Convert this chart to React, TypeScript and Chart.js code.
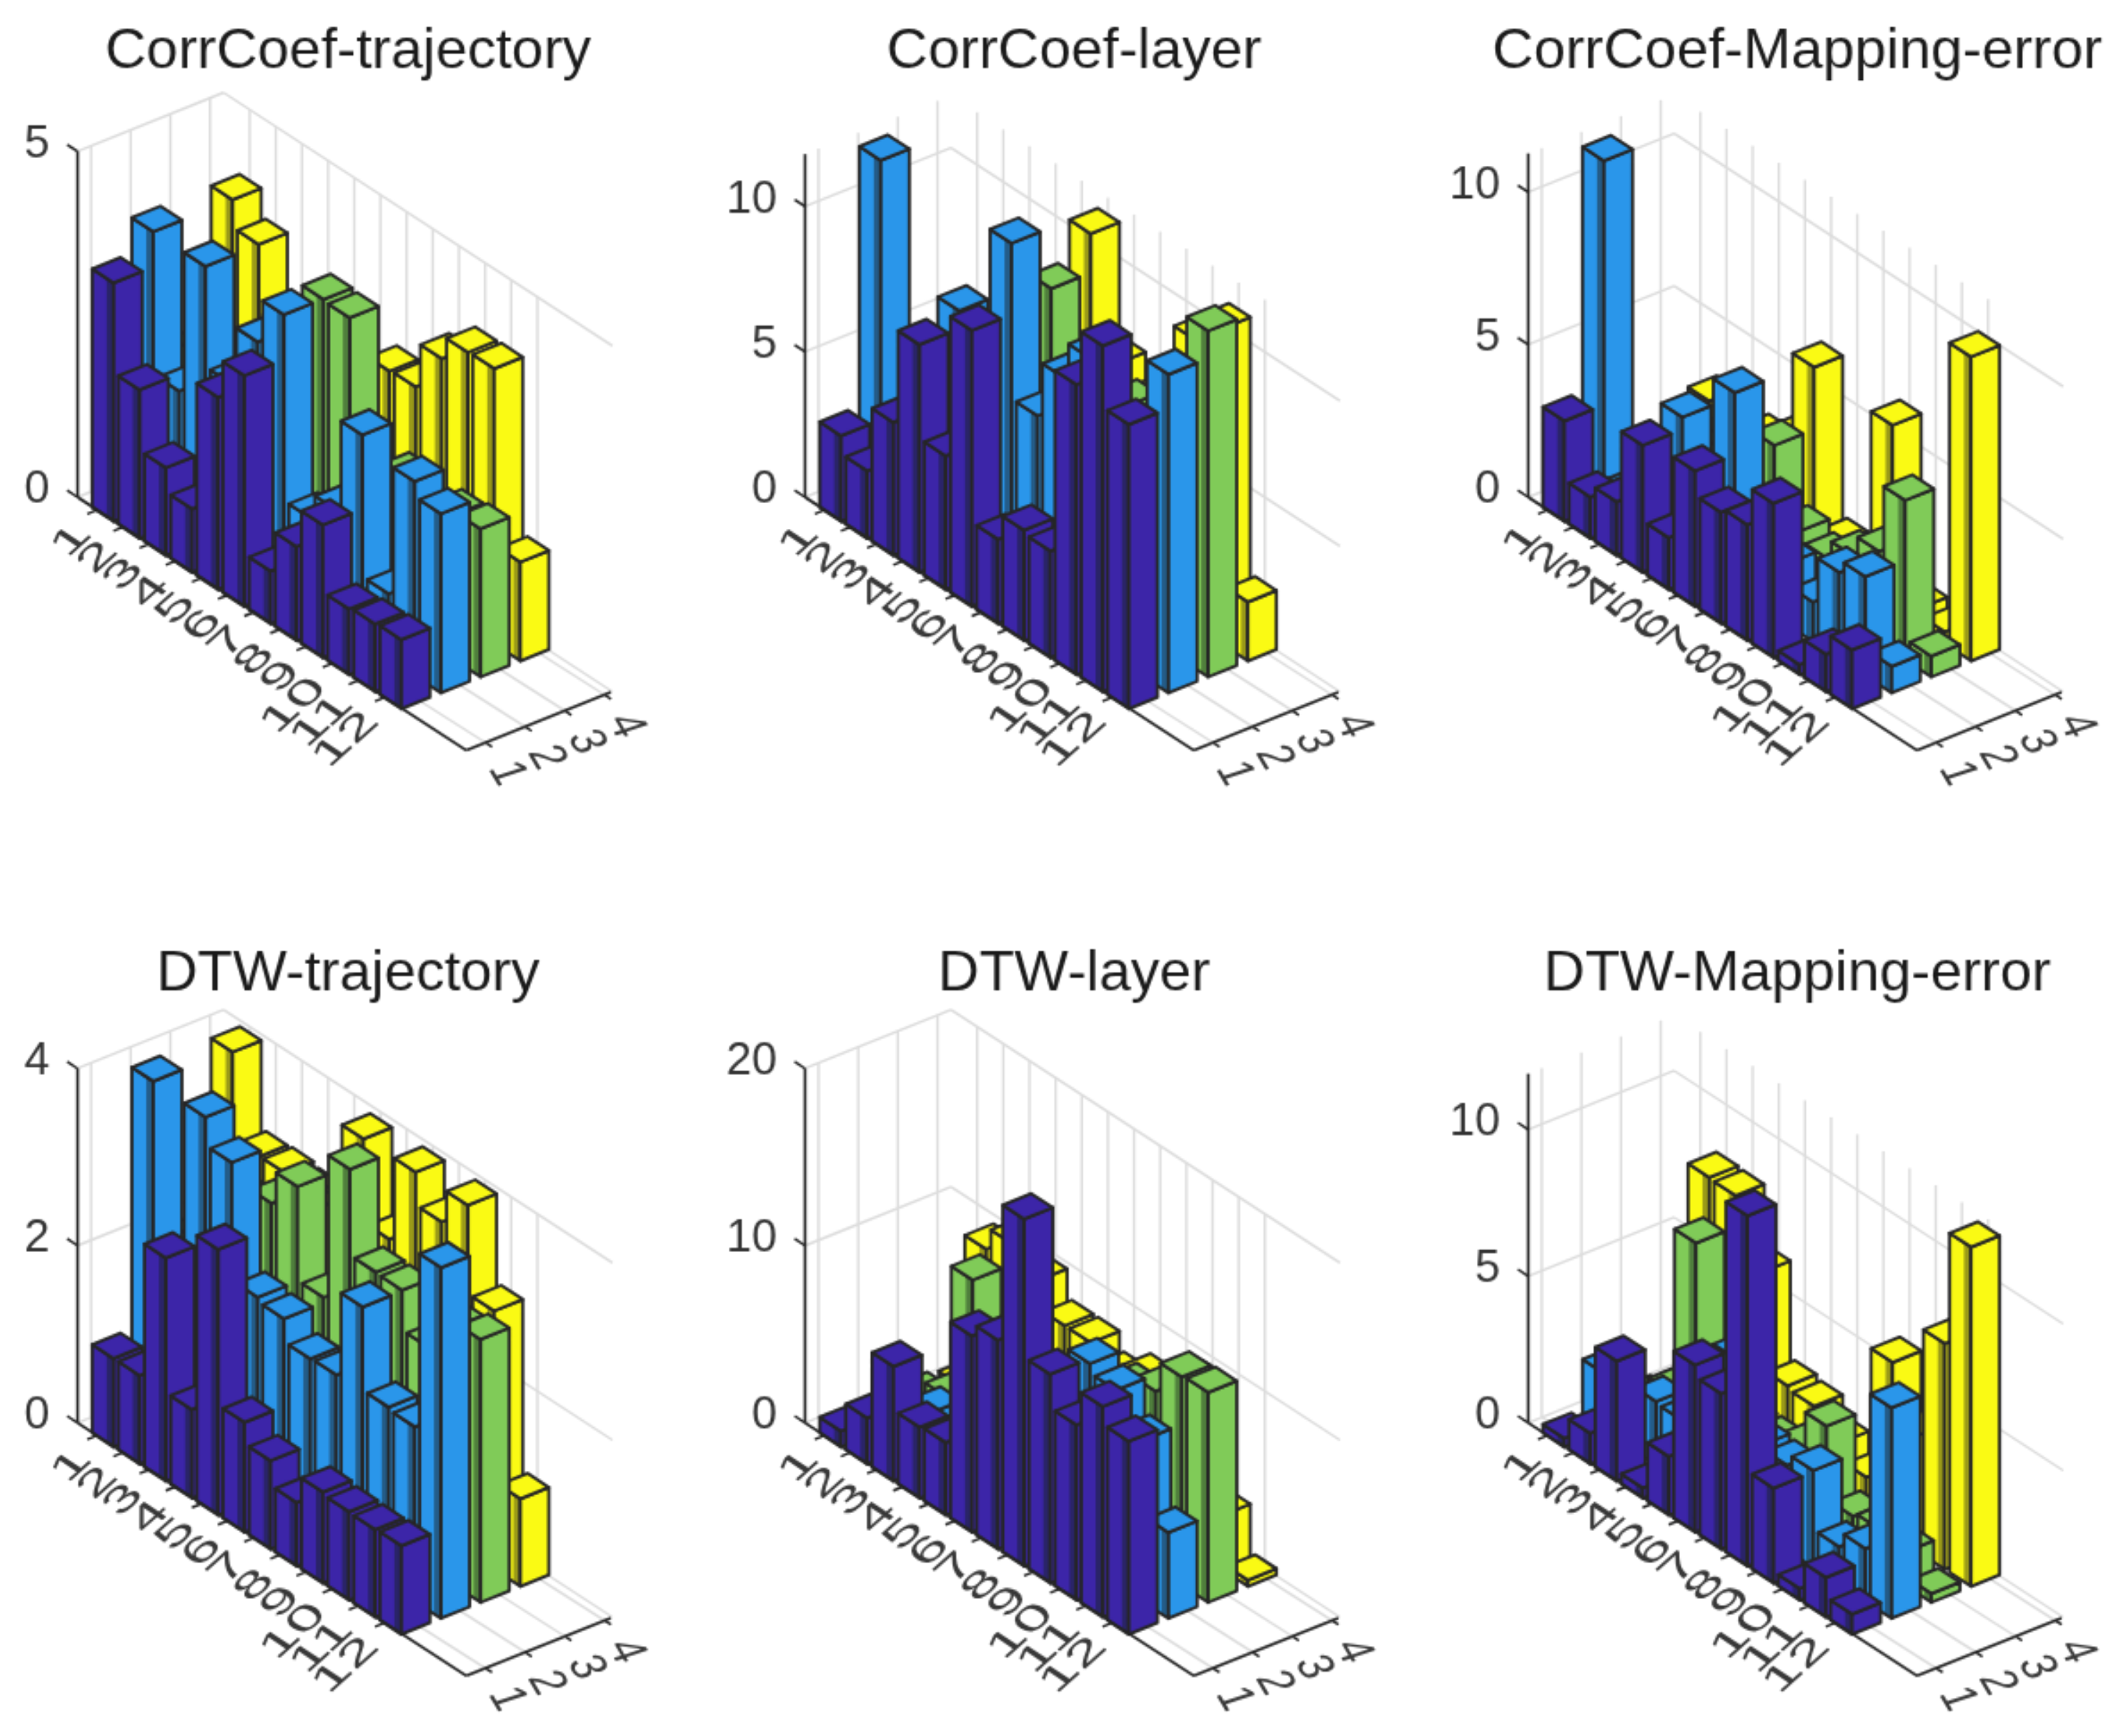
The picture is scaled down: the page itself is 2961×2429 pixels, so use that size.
import React, { useEffect, useRef } from "react";
import { Chart, DatasetController, LinearScale, PointElement, Title } from "chart.js";

const categories = ["1", "2", "3", "4", "5", "6", "7", "8", "9", "10", "11", "12"];
const seriesLabels = ["1", "2", "3", "4"];

const corrTrajectoryS1 = [3.45, 2.15, 1.27, 0.92, 2.78, 3.34, 0.76, 1.36, 1.92, 0.95, 0.98, 1.0];
const corrTrajectoryS2 = [3.96, 1.9, 3.95, 2.5, 3.35, 3.99, 1.3, 1.66, 2.99, 0.94, 2.81, 2.59];
const corrTrajectoryS3 = [2.0, 2.2, 2.4, 2.3, 3.0, 3.98, 3.96, 1.4, 2.14, 1.9, 2.1, 2.14];
const corrTrajectoryS4 = [3.96, 3.56, 2.6, 2.8, 3.0, 2.5, 2.96, 2.98, 3.63, 3.97, 3.98, 1.43];

const corrLayerS1 = [2.95, 2.33, 4.58, 7.84, 4.6, 9.5, 2.9, 3.8, 3.67, 9.98, 11.9, 9.78];
const corrLayerS2 = [11.87, 2.5, 4, 8.45, 6, 11.95, 6.6, 8.5, 9.76, 7, 6, 10.95];
const corrLayerS3 = [2.5, 3, 4, 4.5, 5, 9.84, 7, 6, 7.6, 6, 9, 11.9];
const corrLayerS4 = [4, 4, 4, 4.5, 4.5, 11.18, 7.3, 6.5, 8, 9.87, 10.84, 2.03];

const corrMappingS1 = [3.3, 1.36, 1.76, 4.17, 1.7, 4.45, 3.65, 3.8, 5.06, 0.33, 1.23, 1.93];
const corrMappingS2 = [11.3, 1, 1, 4.57, 3, 6.49, 1.5, 2, 1.3, 2.83, 3.25, 0.87];
const corrMappingS3 = [1, 1.5, 2, 3, 3.5, 4.24, 2, 1.67, 2.3, 3.0, 5.23, 0.68];
const corrMappingS4 = [1, 2.94, 2.5, 2.8, 3.3, 6.28, 1.06, 1, 6.05, 0.6, 0.4, 9.97];

const dtwTrajectoryS1 = [1.0, 1.0, 2.52, 1.0, 3.0, 1.24, 1.0, 0.72, 1.03, 1.0, 0.99, 1.0];
const dtwTrajectoryS2 = [3.95, 1.8, 3.93, 3.61, 2.28, 2.23, 1.97, 1.98, 2.94, 2.0, 1.97, 3.96];
const dtwTrajectoryS3 = [2, 2.5, 2.8, 2.97, 3.35, 2.29, 3.93, 2.96, 2.95, 2.5, 2.92, 2.97];
const dtwTrajectoryS4 = [3.92, 2.93, 2.94, 2.9, 2.9, 3.9, 2.96, 3.91, 3.54, 3.92, 2.92, 0.99];

const dtwLayerS1 = [0.9, 2.6, 6.47, 4.0, 4.1, 11.08, 11.8, 19.6, 11.8, 9.9, 11.9, 10.9];
const dtwLayerS2 = [0.5, 1, 3.0, 2, 3, 5, 5, 7, 11.5, 10.96, 9.1, 4.85];
const dtwLayerS3 = [1, 2, 9.55, 6, 6, 6, 6, 8, 9.2, 10, 11.77, 11.86];
const dtwLayerS4 = [0.8, 9.43, 10.7, 9.6, 8, 8, 7, 7.87, 8, 9.4, 3.05, 0.36];

const dtwMappingS1 = [0.3, 1.05, 4.09, 0.35, 2.0, 5.7, 5.3, 11.95, 3.24, 0.4, 1.36, 0.69];
const dtwMappingS2 = [1.97, 1, 2.17, 2.1, 1.5, 5.4, 3, 2.9, 3.3, 1.28, 1.8, 7.18];
const dtwMappingS3 = [0.5, 1.37, 7.03, 2, 2, 2, 2.37, 3.69, 1.2, 1.36, 1.14, 0.3];
const dtwMappingS4 = [0.4, 8.14, 8.1, 6.07, 2.78, 2.66, 2, 1.4, 5.9, 4, 7.7, 11.57];

const zTicks1 = [0, 5];
const zTicks2 = [0, 5, 10];
const zTicks4 = [0, 2, 4];
const zTicks5 = [0, 10, 20];

const COLORS = ["#3C25A8", "#2A96EA", "#80CB58", "#FAFA14"];
const SHADES = ["#2A2468", "#245C88", "#4F7E3C", "#9A9A18"];
const INK = "#262626";
const GRID = "#DCDCDC";
const FONT = '"Liberation Sans", Arial, sans-serif';

const CAT = { x: 36.6, y: 23.8 };
const SER = { x: 55.5, y: -22.3 };
const S0 = 0.66;
const S1 = 4.34;
const C1 = 14.87;
const HC = 0.41;
const HS = 0.36;
const CAT_TICK_SHIFT = -0.25;
const SER_TICK_SHIFT = 0.14;
const CANVAS_W = 1000;
const CANVAS_H = 1136;

const panels = [
  { title: "CorrCoef-trajectory", center: 486.5, axisX: 108, axisY: 695, top: 0, unit: 96.7, zMax: 5, ticks: zTicks1, series: [corrTrajectoryS1, corrTrajectoryS2, corrTrajectoryS3, corrTrajectoryS4] },
  { title: "CorrCoef-layer", center: 1502.5, axisX: 1126, axisY: 695, top: 0, unit: 40.65, zMax: 11.8, ticks: zTicks2, series: [corrLayerS1, corrLayerS2, corrLayerS3, corrLayerS4] },
  { title: "CorrCoef-Mapping-error", center: 2514.5, axisX: 2138, axisY: 695, top: 0, unit: 42.65, zMax: 11.27, ticks: zTicks2, series: [corrMappingS1, corrMappingS2, corrMappingS3, corrMappingS4] },
  { title: "DTW-trajectory", center: 486.5, axisX: 108, axisY: 1990, top: 1293, unit: 123.8, zMax: 4, ticks: zTicks4, series: [dtwTrajectoryS1, dtwTrajectoryS2, dtwTrajectoryS3, dtwTrajectoryS4] },
  { title: "DTW-layer", center: 1502.5, axisX: 1126, axisY: 1990, top: 1293, unit: 24.76, zMax: 20, ticks: zTicks5, series: [dtwLayerS1, dtwLayerS2, dtwLayerS3, dtwLayerS4] },
  { title: "DTW-Mapping-error", center: 2514.5, axisX: 2138, axisY: 1990, top: 1293, unit: 41, zMax: 11.9, ticks: zTicks2, series: [dtwMappingS1, dtwMappingS2, dtwMappingS3, dtwMappingS4] },
];

function project(chart: any, c: number, s: number, z: number): [number, number] {
  const xs = chart.scales.x;
  const ys = chart.scales.y;
  const unit = (ys.bottom - ys.top) / (ys.max - ys.min);
  const X = c + ((s - S0) * SER.x) / CAT.x;
  const V = z - (c * CAT.y + (s - S0) * SER.y) / unit;
  return [xs.getPixelForValue(X), ys.getPixelForValue(V)];
}

function poly(ctx: CanvasRenderingContext2D, pts: [number, number][], fill: string | null, stroke: string | null, width = 4.5) {
  ctx.beginPath();
  pts.forEach((p, i) => (i ? ctx.lineTo(p[0], p[1]) : ctx.moveTo(p[0], p[1])));
  ctx.closePath();
  if (fill) {
    ctx.fillStyle = fill;
    ctx.fill();
  }
  if (stroke) {
    ctx.strokeStyle = stroke;
    ctx.lineWidth = width;
    ctx.lineJoin = "round";
    ctx.stroke();
  }
}

function line(ctx: CanvasRenderingContext2D, a: [number, number], b: [number, number], color: string, width: number) {
  ctx.beginPath();
  ctx.moveTo(a[0], a[1]);
  ctx.lineTo(b[0], b[1]);
  ctx.strokeStyle = color;
  ctx.lineWidth = width;
  ctx.lineCap = "butt";
  ctx.stroke();
}

class Bar3DController extends DatasetController {
  static id = "bar3d";
  static defaults = { datasetElementType: false, dataElementType: "point" };
  static overrides = { scales: { x: { type: "linear" }, y: { type: "linear" } } };
  update() {}
  draw() {
    const chart: any = this.chart;
    const ctx = chart.ctx;
    const ds: any = this.getDataset();
    const s = this.index + 1;
    const values = ds.data as number[];
    ctx.save();
    values.forEach((z, i) => {
      const c = i + 1;
      const P = (dc: number, ds2: number, zz: number) => project(chart, c + dc, s + ds2, zz);
      const left: [number, number][] = [P(-HC, -HS, 0), P(HC, -HS, 0), P(HC, -HS, z), P(-HC, -HS, z)];
      const right: [number, number][] = [P(HC, -HS, 0), P(HC, HS, 0), P(HC, HS, z), P(HC, -HS, z)];
      const top: [number, number][] = [P(-HC, -HS, z), P(HC, -HS, z), P(HC, HS, z), P(-HC, HS, z)];
      poly(ctx, left, ds.barColor, null);
      const stripe: [number, number][] = [P(HC * 0.35, -HS, 0), P(HC, -HS, 0), P(HC, -HS, z), P(HC * 0.35, -HS, z)];
      poly(ctx, stripe, ds.shadeColor, null);
      poly(ctx, left, null, INK);
      poly(ctx, right, ds.barColor, INK);
      poly(ctx, top, ds.barColor, INK);
    });
    ctx.restore();
  }
}

const box3d = {
  id: "box3d",
  beforeDatasetsDraw(chart: any) {
    const ctx = chart.ctx;
    const ticks: number[] = chart.options.plugins.box3d.zTicks;
    const zMax: number = chart.options.plugins.box3d.zMax;
    ctx.save();
    ticks.forEach((z) => {
      line(ctx, project(chart, 0, S0, z), project(chart, 0, S1, z), GRID, 3.5);
      line(ctx, project(chart, 0, S1, z), project(chart, C1, S1, z), GRID, 3.5);
    });
    seriesLabels.forEach((_, i) => {
      const s = i + 1;
      line(ctx, project(chart, 0, s, 0), project(chart, 0, s, zMax), GRID, 3.5);
      line(ctx, project(chart, 0, s, 0), project(chart, C1, s + SER_TICK_SHIFT, 0), GRID, 3.5);
    });
    categories.forEach((_, i) => {
      const c = i + 1;
      line(ctx, project(chart, c, S1, 0), project(chart, c, S1, zMax), GRID, 3.5);
      line(ctx, project(chart, c, S1, 0), project(chart, c + CAT_TICK_SHIFT, S0, 0), GRID, 3.5);
    });
    line(ctx, project(chart, 0, S0, 0), project(chart, 0, S0, zMax), INK, 4);
    ticks.forEach((z) => {
      line(ctx, project(chart, 0, S0, z), project(chart, -0.4, S0, z), INK, 3.5);
    });
    ctx.restore();
  },
  afterDatasetsDraw(chart: any) {
    const ctx = chart.ctx;
    ctx.save();
    line(ctx, project(chart, 0, S0, 0), project(chart, C1, S0, 0), INK, 4);
    line(ctx, project(chart, C1, S0, 0), project(chart, C1, S1 - 0.04, 0), INK, 4);
    ctx.fillStyle = "#383838";
    ctx.textBaseline = "middle";
    categories.forEach((label, i) => {
      const c = i + 1;
      const a = project(chart, c, S0, 0);
      line(ctx, project(chart, c + CAT_TICK_SHIFT, S0, 0), project(chart, c + CAT_TICK_SHIFT, S0 - 0.25, 0), INK, 3.5);
      ctx.save();
      ctx.font = `60px ${FONT}`;
      ctx.translate(a[0] - 26.5, a[1] + 20.5);
      ctx.transform(1.108, -0.988, 0.75, 0.5, 0, 0);
      ctx.textAlign = "right";
      ctx.fillText(label, 0, 0);
      ctx.restore();
    });
    seriesLabels.forEach((label, i) => {
      const s = i + 1;
      const a = project(chart, C1, s, 0);
      line(ctx, project(chart, C1, s + SER_TICK_SHIFT, 0), project(chart, C1 + 0.25, s + SER_TICK_SHIFT, 0), INK, 3.5);
      ctx.save();
      ctx.font = `72px ${FONT}`;
      ctx.translate(a[0] + 37, a[1] + 40);
      ctx.scale(1, 0.75);
      ctx.rotate((66 * Math.PI) / 180);
      ctx.textAlign = "center";
      ctx.fillText(label, 0, 0);
      ctx.restore();
    });
    ctx.restore();
  },
};

Chart.register(Bar3DController as any, LinearScale, PointElement, Title, box3d as any);

function Panel({ panel }: { panel: (typeof panels)[number] }) {
  const ref = useRef<HTMLCanvasElement | null>(null);
  useEffect(() => {
    const canvasLeft = panel.center - CANVAS_W / 2;
    const inset = panel.axisX - canvasLeft;
    const chart: any = new Chart(ref.current as HTMLCanvasElement, {
      type: "bar3d" as any,
      data: {
        labels: categories,
        datasets: panel.series.map((values, i) => ({
          label: seriesLabels[i],
          data: values,
          clip: false,
          barColor: COLORS[i],
          shadeColor: SHADES[i],
        })) as any,
      },
      options: {
        responsive: false,
        animation: false,
        devicePixelRatio: 0.4,
        layout: { padding: 0 },
        scales: {
          x: { type: "linear", display: false, min: 0, max: 20 },
          y: {
            type: "linear",
            min: 0,
            max: 10,
            grid: { display: false },
            border: { display: false },
            afterBuildTicks: (scale: any) => {
              scale.ticks = panel.ticks.map((value) => ({ value }));
            },
            afterFit: (scale: any) => {
              scale.width = inset;
              scale.paddingTop = 0;
              scale.paddingBottom = 0;
            },
            ticks: {
              padding: 31,
              labelOffset: -9,
              color: "#333333",
              font: { family: FONT, size: 64 },
              callback: (value: any) => String(value),
            },
          },
        },
        plugins: {
          legend: { display: false },
          tooltip: { enabled: false },
          title: {
            display: true,
            text: panel.title,
            color: "#1A1A1A",
            font: { family: FONT, size: 80, weight: "normal", lineHeight: 1.2 },
            padding: { top: panel.top ? 23 : 25, bottom: 5 },
          },
          box3d: { zTicks: panel.ticks, zMax: panel.zMax },
        },
      } as any,
    });
    const area = chart.chartArea;
    const yMax = (panel.axisY - panel.top - area.top) / panel.unit;
    chart.options.scales.y.max = yMax;
    chart.options.scales.y.min = yMax - (area.bottom - area.top) / panel.unit;
    chart.options.scales.x.max = (area.right - area.left) / CAT.x;
    chart.update();
    return () => chart.destroy();
  }, [panel]);
  return (
    <canvas
      ref={ref}
      width={CANVAS_W}
      height={CANVAS_H}
      style={{
        position: "absolute",
        left: panel.center - CANVAS_W / 2,
        top: panel.top,
        width: CANVAS_W,
        height: CANVAS_H,
      }}
    />
  );
}

export default function App() {
  return (
    <div style={{ position: "absolute", left: 0, top: 0, width: 2961, height: 2429, overflow: "hidden", background: "#fff" }}>
      {panels.map((p) => (
        <Panel key={p.title} panel={p} />
      ))}
    </div>
  );
}
